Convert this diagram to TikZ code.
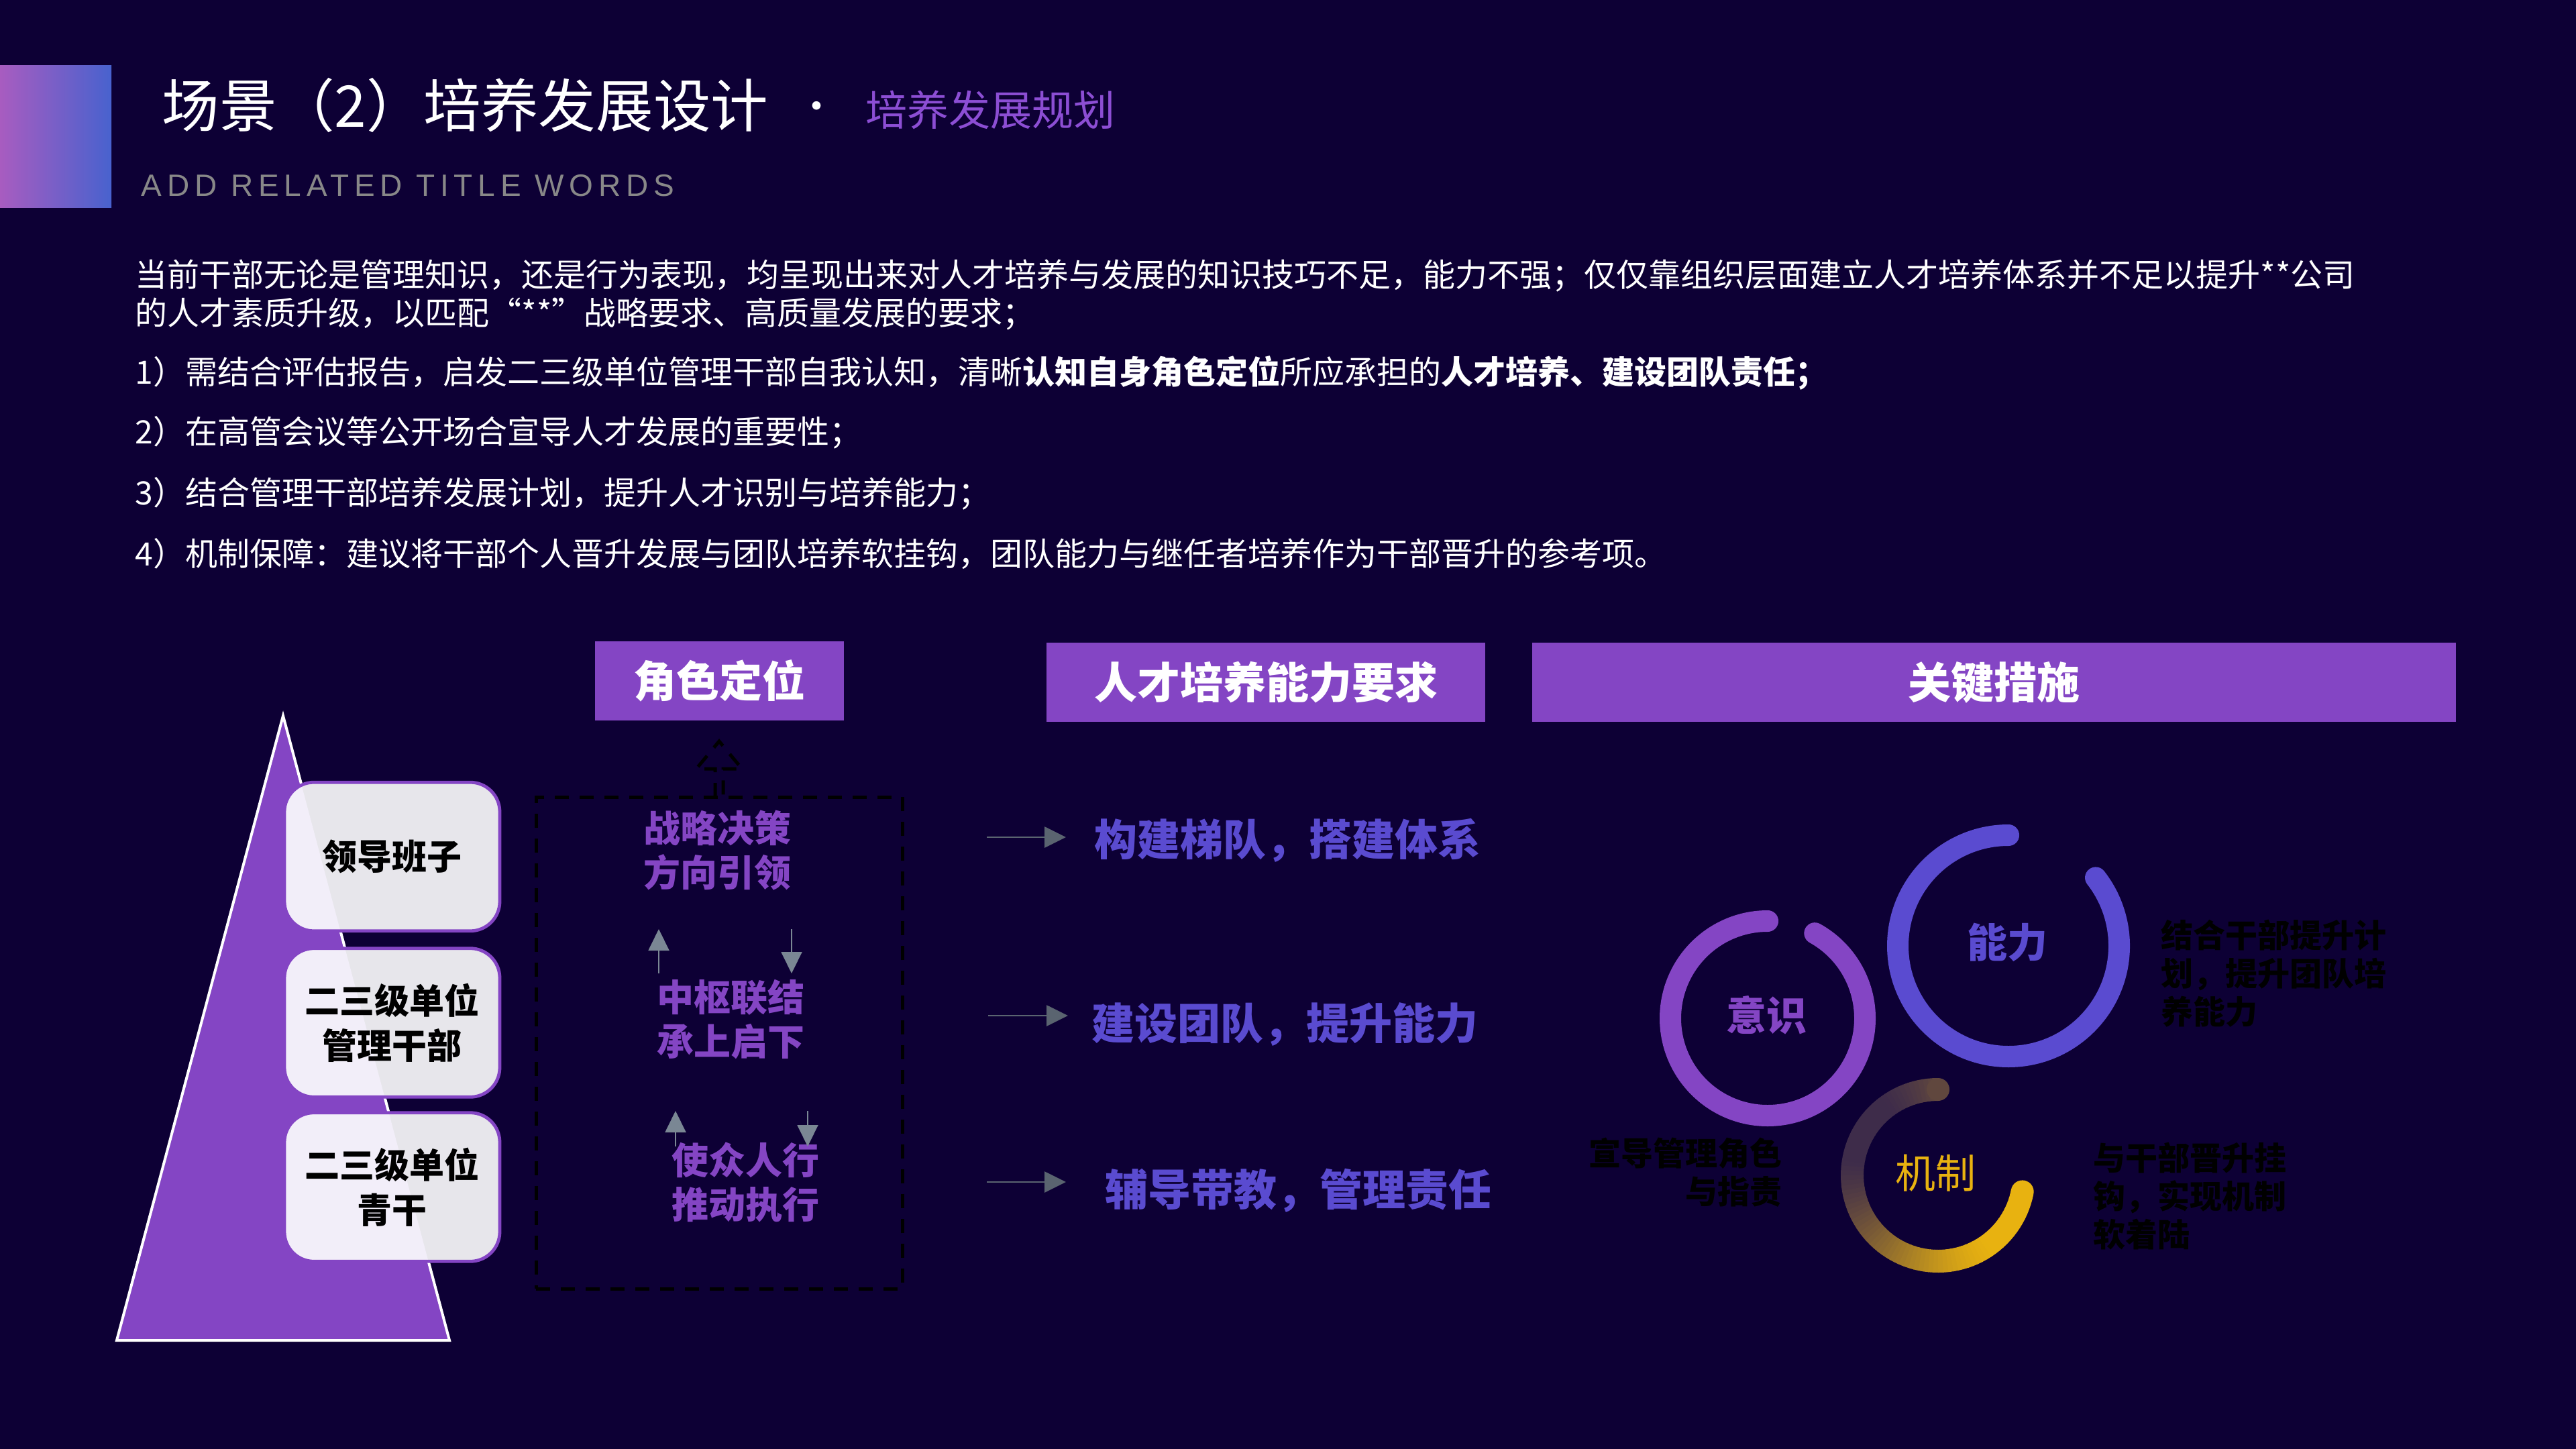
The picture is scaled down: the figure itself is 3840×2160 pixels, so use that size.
\documentclass[tikz,border=0pt]{standalone}
\usepackage{fontspec}
\setmainfont{Noto Sans CJK SC}
\newfontfamily\latinfont{Liberation Sans}[LetterSpace=17]
\usetikzlibrary{arrows.meta}
\definecolor{bg}{RGB}{13,0,53}
\definecolor{purp}{RGB}{132,69,196}
\definecolor{subpurp}{RGB}{140,78,212}
\definecolor{bluep}{RGB}{90,75,208}
\definecolor{gold}{RGB}{232,178,16}
\definecolor{ringdark}{RGB}{62,44,74}
\definecolor{boxgray}{RGB}{231,230,235}
\definecolor{boxlight}{RGB}{242,238,249}
\definecolor{arrowgray}{RGB}{122,135,148}
\definecolor{arrowdark}{RGB}{90,100,112}
\definecolor{subgray}{RGB}{136,136,136}
\definecolor{barL}{RGB}{168,92,192}
\definecolor{barM}{RGB}{118,50,210}
\definecolor{barR}{RGB}{72,98,206}
\newcommand\fsz[2]{\fontsize{#1}{#2}\selectfont}
\begin{document}
\begin{tikzpicture}[x=0.25pt,y=-0.25pt,
  hdr/.style={fill=purp, text=white, font=\fsz{16}{19}\bfseries, inner sep=0pt, minimum height=29.5pt},
  lvl/.style={draw=purp, line width=1.2pt, rounded corners=11pt, minimum width=80.25pt, minimum height=55.4pt, align=center, font=\fsz{13}{16.75}\bfseries, text=black, inner sep=0pt},
  role/.style={text=purp, align=center, font=\fsz{13.75}{16.5}\bfseries, inner sep=0pt},
  req/.style={text=bluep, font=\fsz{16}{19}\bfseries, anchor=west, inner sep=0pt},
  para/.style={text=white, font=\fsz{12}{14}, anchor=west, inner sep=0pt},
  note/.style={text=black, font=\fsz{12}{14.25}\bfseries, inner sep=0pt},
  garrow/.style={draw=arrowgray, line width=0.5pt, -{Triangle[width=7.75pt,length=8pt]}},
  marrow/.style={draw=arrowdark, line width=0.7pt, -{Triangle[width=7.75pt,length=8pt]}},
  ringline/.style={line width=8pt, line cap=round},
  dashbox/.style={draw=black, line width=1.25pt, dash pattern=on 5.25pt off 4pt},
  ringlabel/.style={font=\fsz{15}{18}\bfseries, inner sep=0pt}
]
\fill[bg] (0,0) rectangle (3840,2160);
\useasboundingbox (0,0) rectangle (3840,2160);

% title area
\shade[left color=barL, middle color=barM, right color=barR] (0,98) rectangle (166,310);
\node[anchor=west, inner sep=0pt, text=white, font=\fsz{21.4}{24}] (title) at (241,157) {场景（2）培养发展设计};
\node[inner sep=0pt, text=white, font=\fsz{15}{18}] (dot) at (1217,166) {·};
\node[anchor=west, inner sep=0pt, text=subpurp, font=\fsz{15.5}{18}] (subtitle) at (1290,164) {培养发展规划};
\node[anchor=west, inner sep=0pt, text=subgray, font=\latinfont\fsz{11.5}{14}] (eng) at (210,277) {ADD RELATED TITLE WORDS};

% paragraph
\node[para] (p0a) at (201,411) {当前干部无论是管理知识，还是行为表现，均呈现出来对人才培养与发展的知识技巧不足，能力不强；仅仅靠组织层面建立人才培养体系并不足以提升**公司};
\node[para] (p0b) at (201,468) {的人才素质升级，以匹配“**”战略要求、高质量发展的要求；};
\node[para] (p1) at (201,556) {1）需结合评估报告，启发二三级单位管理干部自我认知，清晰{\bfseries 认知自身角色定位}所应承担的{\bfseries 人才培养、建设团队责任；}};
\node[para] (p2) at (201,645) {2）在高管会议等公开场合宣导人才发展的重要性；};
\node[para] (p3) at (201,736) {3）结合管理干部培养发展计划，提升人才识别与培养能力；};
\node[para] (p4) at (201,826) {4）机制保障：建议将干部个人晋升发展与团队培养软挂钩，团队能力与继任者培养作为干部晋升的参考项。};

% headers
\node[hdr, minimum width=92.75pt] (h1) at (1072.5,1015) {角色定位};
\node[hdr, minimum width=163.5pt] (h2) at (1887,1017) {人才培养能力要求};
\node[hdr, minimum width=344.25pt] (h3) at (2972.5,1017) {关键措施};

% pyramid
\filldraw[fill=purp, draw=white, line width=1pt] (422,1067) -- (670,1998) -- (174,1998) -- cycle;
\foreach \t/\b in {1166/1388, 1414/1635, 1659/1880} {
  \fill[boxgray, rounded corners=11pt] (424,\t) rectangle (745,\b);
  \begin{scope}
    \clip[rounded corners=11pt] (424,\t) rectangle (745,\b);
    \fill[boxlight] (422,1067) -- (670,1998) -- (174,1998) -- cycle;
  \end{scope}
}
\node[lvl] (b1) at (584.5,1277) {领导班子};
\node[lvl] (b2) at (584.5,1524.5) {二三级单位\\管理干部};
\node[lvl] (b3) at (584.5,1769.5) {二三级单位\\青干};

% dashed box
\node[dashbox, minimum width=136.5pt, minimum height=183.25pt, inner sep=0pt] (dbox) at (1072,1554.5) {};
\draw[dashbox] (1066,1188) -- (1066,1146) -- (1038,1146) -- (1072,1105) -- (1106,1146) -- (1078,1146) -- (1078,1188);
\node[role] (r1) at (1069,1268) {战略决策\\方向引领};
\node[role] (r2) at (1089,1520) {中枢联结\\承上启下};
\node[role] (r3) at (1111,1762) {使众人行\\推动执行};
\coordinate (u1t) at (982,1451); \coordinate (u1h) at (982,1385);
\coordinate (d1t) at (1180,1385); \coordinate (d1h) at (1180,1451);
\coordinate (u2t) at (1007,1709); \coordinate (u2h) at (1007,1656);
\coordinate (d2t) at (1204,1656); \coordinate (d2h) at (1204,1709);
\draw[garrow] (u1t) -- (u1h);
\draw[garrow] (d1t) -- (d1h);
\draw[garrow] (u2t) -- (u2h);
\draw[garrow] (d2t) -- (d2h);

% requirements
\node[req] (t1) at (1631,1253) {构建梯队，搭建体系};
\node[req] (t2) at (1627,1527) {建设团队，提升能力};
\node[req] (t3) at (1647,1775) {辅导带教，管理责任};
\coordinate (m1s) at (1471,1248); \coordinate (m1e) at (1589,1248);
\coordinate (m2s) at (1473,1514); \coordinate (m2e) at (1592,1514);
\coordinate (m3s) at (1471,1762); \coordinate (m3e) at (1589,1762);
\draw[marrow] (m1s) -- (m1e);
\draw[marrow] (m2s) -- (m2e);
\draw[marrow] (m3s) -- (m3e);

% rings
\coordinate (c1) at (2994,1410);
\coordinate (c2) at (2635,1518);
\coordinate (c3) at (2889,1752);
\draw[ringline, bluep] ([shift={(-90:165)}]c1) arc[start angle=-90, end angle=-398, radius=165];
\draw[ringline, purp] ([shift={(-90:145)}]c2) arc[start angle=-90, end angle=-421, radius=145];
\foreach \p in {90,93,...,345} {
  \pgfmathsetmacro\mixv{100*max(0,min(1,0.5+0.45*cos(\p)-0.3*sin(\p)))}
  \draw[line width=8.5pt, color=gold!\mixv!ringdark] ([shift={(-\p:128)}]c3) arc[start angle=-\p, end angle={-\p-3.6}, radius=128];
}
\pgfmathsetmacro\mixa{100*max(0,min(1,0.5+0.45*cos(90)-0.3*sin(90)))}
\fill[color=gold!\mixa!ringdark] ([shift={(-90:128)}]c3) circle[radius=17];
\fill[gold] ([shift={(-349:128)}]c3) circle[radius=17];

\node[ringlabel, text=bluep] (k1) at (2992,1405) {能力};
\node[ringlabel, text=purp] (k2) at (2633,1513) {意识};
\node[ringlabel, text=gold, font=\fsz{15}{18}] (k3) at (2885,1749) {机制};

\node[note, anchor=west, align=left] (n1) at (3221,1451) {结合干部提升计\\划，提升团队培\\养能力};
\node[note, anchor=east, align=right] (n2) at (2657,1748) {宣导管理角色\\与指责};
\node[note, anchor=west, align=left] (n3) at (3120,1783) {与干部晋升挂\\钩，实现机制\\软着陆};
\end{tikzpicture}
\end{document}
